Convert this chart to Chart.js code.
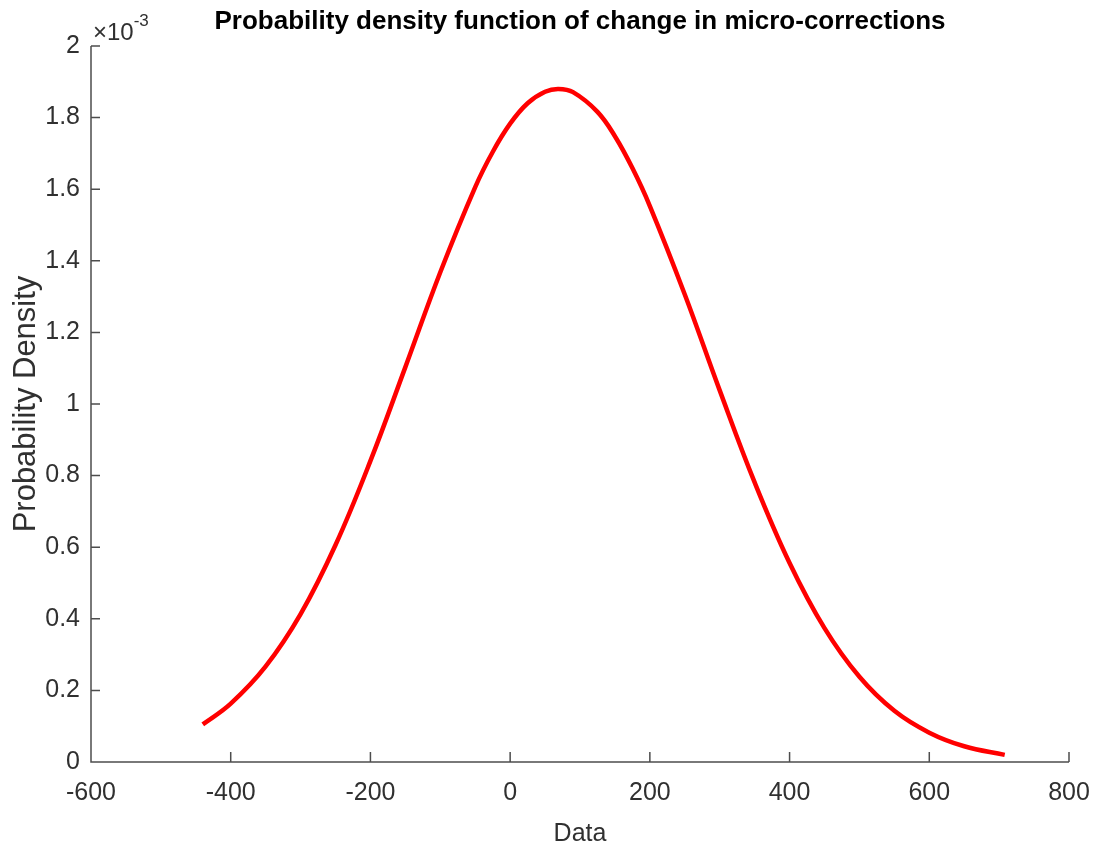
<!DOCTYPE html>
<html>
<head>
<meta charset="utf-8">
<script src="https://cdn.jsdelivr.net/npm/chart.js@4/dist/chart.umd.min.js"></script>
<style>
  html, body { margin: 0; padding: 0; background: #fff; }
  #wrap { width: 1099px; height: 851px; }
</style>
</head>
<body>
<div id="wrap"><canvas id="Chart" width="1099" height="851"></canvas></div>
<script>
// values (density in units of 1e-3)
const dataX = [-440, -400, -350, -300, -250, -200, -150, -100, -50, -25, 0, 25, 50, 69, 90, 125, 150, 175, 200, 250, 300, 350, 400, 450, 500, 550, 600, 650, 708];
const density = [0.105, 0.163, 0.267, 0.413, 0.606, 0.841, 1.103, 1.368, 1.606, 1.704, 1.783, 1.840, 1.872, 1.880, 1.871, 1.816, 1.748, 1.659, 1.553, 1.306, 1.038, 0.781, 0.556, 0.374, 0.238, 0.143, 0.082, 0.044, 0.020];

const xTicks = [-600, -400, -200, 0, 200, 400, 600, 800];
const yTicks = [0, 0.2, 0.4, 0.6, 0.8, 1, 1.2, 1.4, 1.6, 1.8, 2];
const yTickLabels = ['0', '0.2', '0.4', '0.6', '0.8', '1', '1.2', '1.4', '1.6', '1.8', '2'];

const titleText = 'Probability density function of change in micro-corrections';
const textColor = '#303030';
const axisColor = '#4d4d4d';

let points = dataX.map(function (x, i) { return { x: x, y: density[i] }; });

// matlab style: inward ticks, title over plot area, x10^-3 exponent
const matlabAxes = {
  id: 'matlabAxes',
  afterDraw(chart) {
    const ctx = chart.ctx;
    const a = chart.chartArea;
    const xs = chart.scales.x, ys = chart.scales.y;
    ctx.save();
    ctx.strokeStyle = axisColor;
    ctx.lineWidth = 1.5;
    ctx.beginPath();
    ctx.moveTo(a.left, a.top);
    ctx.lineTo(a.left, a.bottom);
    ctx.lineTo(a.right, a.bottom);
    xTicks.forEach(function (t) {
      let px = xs.getPixelForValue(t);
      ctx.moveTo(px, a.bottom);
      ctx.lineTo(px, a.bottom - 10);
    });
    yTicks.forEach(function (t) {
      let py = ys.getPixelForValue(t);
      ctx.moveTo(a.left, py);
      ctx.lineTo(a.left + 9, py);
    });
    ctx.stroke();

    // title
    ctx.fillStyle = '#000';
    ctx.font = 'bold 26px "Liberation Sans", Arial, sans-serif';
    ctx.textAlign = 'center';
    ctx.textBaseline = 'middle';
    ctx.fillText(titleText, (a.left + a.right) / 2, 22);

    // exponent
    ctx.fillStyle = textColor;
    ctx.textAlign = 'left';
    ctx.font = '24px "Liberation Sans", Arial, sans-serif';
    ctx.fillText('\u00d710', a.left + 2, 33);
    let w = ctx.measureText('\u00d710').width;
    ctx.font = '17px "Liberation Sans", Arial, sans-serif';
    ctx.fillText('-3', a.left + 2 + w, 21);
    ctx.restore();
  }
};

let ctx = document.getElementById('Chart').getContext('2d');
let myChart = new Chart(ctx, {
  type: 'line',
  data: {
    datasets: [{
      label: 'pdf',
      data: points,
      borderColor: '#ff0000',
      borderWidth: 4.5,
      pointRadius: 0,
      fill: false,
      tension: 0.4
    }]
  },
  options: {
    responsive: false,
    animation: false,
    layout: { padding: { top: 46, right: 30, left: 0, bottom: 0 } },
    plugins: {
      legend: { display: false },
      title: { display: false },
      tooltip: { enabled: false }
    },
    scales: {
      x: {
        type: 'linear',
        min: -600,
        max: 800,
        afterFit: function (s) { s.height = 89; s.paddingRight = 0; s.paddingLeft = 0; },
        afterBuildTicks: function (s) { s.ticks = xTicks.map(function (v) { return { value: v }; }); },
        grid: { display: false, drawTicks: false },
        border: { display: false },
        ticks: {
          padding: 16,
          maxRotation: 0,
          color: textColor,
          font: { family: '"Liberation Sans", Arial, sans-serif', size: 25 }
        },
        title: {
          display: true,
          text: 'Data',
          color: textColor,
          padding: { top: 0, bottom: 2 },
          font: { family: '"Liberation Sans", Arial, sans-serif', size: 25 }
        }
      },
      y: {
        type: 'linear',
        min: 0,
        max: 2,
        afterFit: function (s) { s.width = 91; },
        afterBuildTicks: function (s) { s.ticks = yTicks.map(function (v) { return { value: v }; }); },
        grid: { display: false, drawTicks: false },
        border: { display: false },
        ticks: {
          padding: 11,
          color: textColor,
          font: { family: '"Liberation Sans", Arial, sans-serif', size: 25 },
          callback: function (value, index) { return yTickLabels[index]; }
        },
        title: {
          display: true,
          text: 'Probability Density',
          color: textColor,
          padding: { top: 8, bottom: 0 },
          font: { family: '"Liberation Sans", Arial, sans-serif', size: 31 }
        }
      }
    }
  },
  plugins: [matlabAxes]
});
</script>
</body>
</html>
